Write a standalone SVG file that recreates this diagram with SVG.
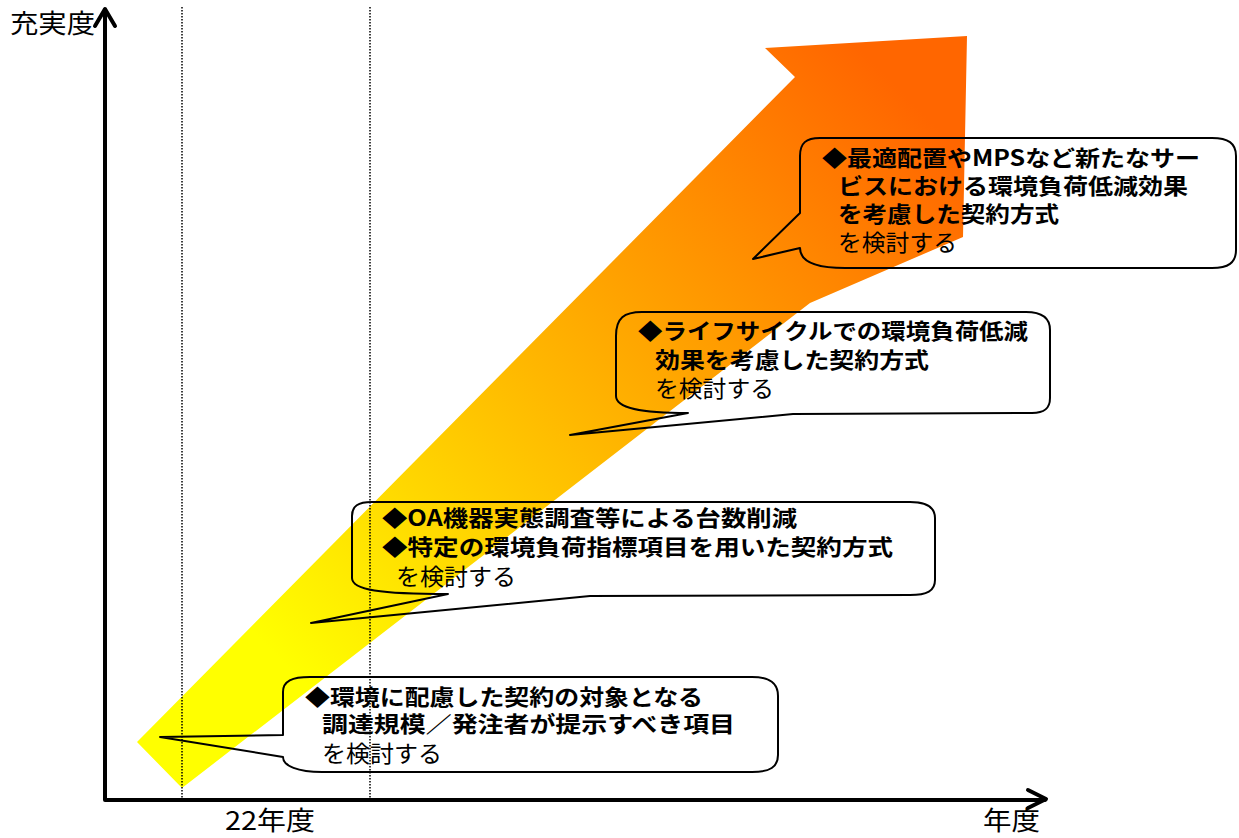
<svg xmlns="http://www.w3.org/2000/svg" width="1239" height="838" viewBox="0 0 1239 838">
<style>
.b{font-family:"Noto Sans CJK JP","Noto Sans",sans-serif;font-weight:bold;font-size:22px;fill:#000}
.n{font-family:"Noto Sans CJK JP","Noto Sans",sans-serif;font-weight:normal;font-size:23px;fill:#000}
.ax{font-family:"Noto Sans CJK JP","Noto Sans",sans-serif;font-weight:normal;font-size:26px;fill:#000}
.co{fill:none;stroke:#000;stroke-width:2;stroke-linejoin:round}
.dot{stroke:#000;stroke-width:1.5;stroke-dasharray:1.5 1.5;fill:none}
.axis{stroke:#000;stroke-width:4;fill:none;stroke-linecap:round;stroke-linejoin:round}
</style>
<defs>
<linearGradient id="g" gradientUnits="userSpaceOnUse" x1="300" y1="680" x2="900" y2="90">
<stop offset="0" stop-color="#FFFF00"/>
<stop offset="0.45" stop-color="#FFB800"/>
<stop offset="1" stop-color="#FF6600"/>
</linearGradient>
</defs>
<rect width="1239" height="838" fill="#fff"/>
<g id="bigArrow">
<polygon points="137,742 795,77 765,48 967,36 963,237 810,303 182,788" fill="url(#g)"/>
</g>
<g id="guides">
<line class="dot" x1="182" y1="7" x2="182" y2="800"/>
<line class="dot" x1="370" y1="7" x2="370" y2="800"/>
</g>
<g id="axes">
<polyline class="axis" points="105,10 105,800 1045,800"/>
<polyline class="axis" points="95,26 105,9 115,26"/>
<polyline class="axis" points="1028,790 1046,799 1028,808"/>
<text class="ax" x="10" y="33" font-size="27" textLength="85" lengthAdjust="spacingAndGlyphs">充実度</text>
<text class="ax" x="225" y="830" textLength="90" lengthAdjust="spacingAndGlyphs">22年度</text>
<text class="ax" x="983" y="830" textLength="57" lengthAdjust="spacingAndGlyphs">年度</text>
</g>
<g id="callout1">
<path class="co" d="M800,156 C800,143 806,138 820,138 L1212,138 C1228,138 1236,143 1236,156 L1236,250 C1236,263 1228,268 1212,268 L845,268 C815,268 800,262 800,248 L753,259 L800,213 Z"/>
<text class="b" x="822" y="166" textLength="378" lengthAdjust="spacingAndGlyphs">◆最適配置やMPSなど新たなサー</text>
<text class="b" x="838" y="194" textLength="350" lengthAdjust="spacingAndGlyphs">ビスにおける環境負荷低減効果</text>
<text class="b" x="838" y="222" textLength="221" lengthAdjust="spacingAndGlyphs">を考慮した契約方式</text>
<text class="n" x="838" y="251" textLength="119" lengthAdjust="spacingAndGlyphs">を検討する</text>
</g>
<g id="callout2">
<path class="co" d="M616,336 C616,318 624,312 642,312 L1026,312 C1042,312 1050,318 1050,330 L1050,398 C1050,409 1044,413 1032,413 L793,414 L570,435 L688,413 C640,413 616,408 616,396 Z"/>
<text class="b" x="638" y="339" textLength="390" lengthAdjust="spacingAndGlyphs">◆ライフサイクルでの環境負荷低減</text>
<text class="b" x="655" y="368" textLength="274" lengthAdjust="spacingAndGlyphs">効果を考慮した契約方式</text>
<text class="n" x="655" y="397" textLength="119" lengthAdjust="spacingAndGlyphs">を検討する</text>
</g>
<g id="callout3">
<path class="co" d="M352,516 C352,506 358,502 372,502 L910,502 C927,502 935,507 935,518 L935,580 C935,591 927,595 910,595 L590,596 L311,623 L448,594 C380,594 352,590 352,578 Z"/>
<text class="b" x="382" y="526" textLength="415" lengthAdjust="spacingAndGlyphs">◆OA機器実態調査等による台数削減</text>
<text class="b" x="382" y="555" textLength="511" lengthAdjust="spacingAndGlyphs">◆特定の環境負荷指標項目を用いた契約方式</text>
<text class="n" x="396" y="585" textLength="120" lengthAdjust="spacingAndGlyphs">を検討する</text>
</g>
<g id="callout4">
<path class="co" d="M283,692 C283,681 292,677 310,677 L752,677 C770,677 778,683 778,696 L778,755 C778,767 770,772 752,772 L322,772 C298,772 283,766 283,757 L160,737 L283,735 Z"/>
<text class="b" x="305" y="705" textLength="398" lengthAdjust="spacingAndGlyphs">◆環境に配慮した契約の対象となる</text>
<text class="b" x="322" y="732" textLength="413" lengthAdjust="spacingAndGlyphs">調達規模／発注者が提示すべき項目</text>
<text class="n" x="322" y="762" textLength="120" lengthAdjust="spacingAndGlyphs">を検討する</text>
</g>
</svg>
